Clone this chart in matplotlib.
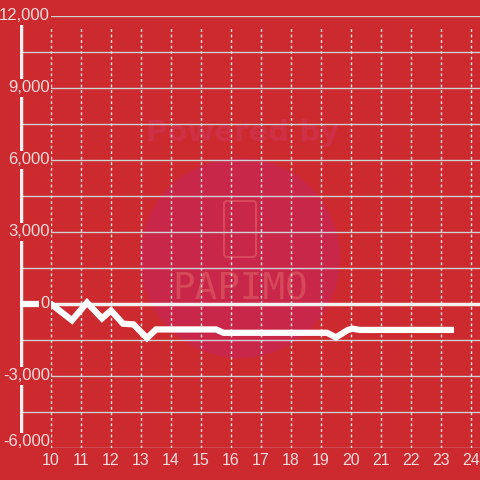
import numpy as np
import matplotlib.pyplot as plt
from matplotlib.patches import Circle, FancyBboxPatch

# values
hours = [8.97, 10.0, 10.7, 11.2, 11.7, 12.0, 12.4, 12.75, 13.2, 13.5,
         15.5, 15.75, 19.2, 19.5, 19.9, 20.05, 20.3, 23.33]
profit = [0, 0, -680, 60, -600, -270, -820, -850, -1420, -1060,
          -1060, -1200, -1200, -1390, -1080, -1030, -1080, -1080]

yticks = [-6000, -3000, 0, 3000, 6000, 9000, 12000]
ylabels = ['-6,000', '-3,000', '0', '3,000', '6,000', '9,000', '12,000']
xticks = list(range(10, 25))

bg = '#cc2a2f'
txt = '#f2dcdc'

fig = plt.figure(figsize=(4.8, 4.8), dpi=100)
fig.patch.set_facecolor(bg)
ax = fig.add_axes([20/480, 1-448/480, 460/480, 432/480])
ax.set_facecolor('none')
ax.set_xlim(8.967, 24.3)
ax.set_ylim(-6000, 12000)
for s in ax.spines.values():
    s.set_visible(False)
ax.tick_params(length=0, labelleft=False, labelbottom=False)

# watermark, behind the grid
ax.add_patch(Circle((240/480, 1-258/480), 100/480, transform=fig.transFigure,
                    facecolor='#c9274a', edgecolor='none', zorder=0.5,
                    clip_on=False))
ax.text(242/480, 1-133/480, 'Powered by', transform=fig.transFigure,
        ha='center', va='center', fontsize=21, fontweight='bold',
        color='#cf3045', family='DejaVu Sans', zorder=0.6)
ax.add_patch(FancyBboxPatch((224/480, 1-257/480), 32/480, 56/480,
                            boxstyle='round,pad=0,rounding_size=0.006',
                            transform=fig.transFigure, facecolor='none',
                            edgecolor='#d6495a', lw=1.5, zorder=0.6))
ax.text(240/480, 1-290/480, 'PAPIMO', transform=fig.transFigure,
        ha='center', va='center', fontsize=27, color='#d6495a',
        family='DejaVu Sans Mono', zorder=0.6)

# grid
for v in np.arange(-6000, 12001, 1500):
    ax.axhline(v, color='#d0d0d0', lw=1, zorder=2)
ax.vlines(xticks, -6000, 11560, colors='#f0e6e6', lw=1,
          linestyles=(0, (2, 2)), zorder=2)
ax.axhline(0, color='#f4f0f0', lw=2.5, zorder=3)
ax.axvline(8.967 + 1/30, ymin=0, ymax=0.984, color='#f4f0f0', lw=2.5, zorder=3)

ax.plot(hours, profit, color='white', lw=4.5, solid_joinstyle='miter', zorder=4)

# tick labels
for v, lab in zip(yticks, ylabels):
    yy = v + 250 if v == -6000 else v
    ax.text(30/460, yy, lab, transform=ax.get_yaxis_transform(),
            ha='right', va='center', fontsize=12, color=txt,
            family='Liberation Sans', zorder=5,
            bbox=dict(facecolor=bg, edgecolor='none', pad=1))
for x in xticks:
    ax.text(x, -0.03, str(x), transform=ax.get_xaxis_transform(),
            ha='center', va='center', fontsize=11.5, color=txt,
            family='Liberation Sans', clip_on=False)

fig.savefig('out.png', dpi=100, facecolor=bg)
